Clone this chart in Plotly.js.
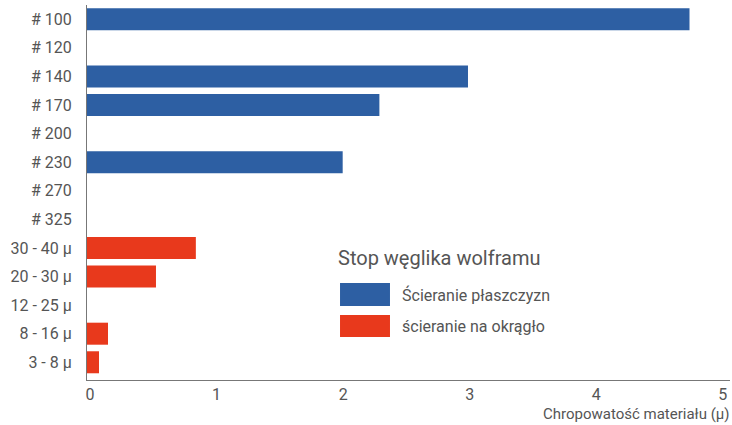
<!DOCTYPE html>
<html>
<head>
<meta charset="utf-8">
<script src="https://cdn.plot.ly/plotly-3.0.1.min.js"></script>
<style>html,body{margin:0;padding:0;background:#fff;}#chart{width:732px;height:425px;}</style>
</head>
<body>
<div id="chart"></div>
<script>
const categories = ["# 100", "# 120", "# 140", "# 170", "# 200", "# 230", "# 270", "# 325", "30 - 40 μ", "20 - 30 μ", "12 - 25 μ", "8 - 16 μ", "3 - 8 μ"];
const flatValues = [4.76, null, 3.01, 2.31, null, 2.02, null, null, null, null, null, null, null];
const roundValues = [null, null, null, null, null, null, null, null, 0.86, 0.545, null, 0.166, 0.095];
const seriesNames = ["Ścieranie płaszczyzn", "ścieranie na okrągło"];
const seriesColors = ["#2D5FA3", "#E8391C"];
const legendTitle = "Stop węglika wolframu";
const xTitle = "Chropowatość materiału (μ)";
const xTicks = [0, 1, 2, 3, 4, 5];

const FONT = "Roboto, sans-serif";
const traces = [flatValues, roundValues].map((vals, i) => ({
  type: "bar", orientation: "h", y: categories, x: vals, name: seriesNames[i],
  marker: {color: seriesColors[i]}, width: 0.77, showlegend: false, hoverinfo: "x+y"
}));

const layout = {
  width: 732, height: 425,
  margin: {l: 87, r: 2, t: 5, b: 45},
  paper_bgcolor: "#fff", plot_bgcolor: "#fff",
  barmode: "overlay",
  font: {family: FONT, color: "#555", size: 16},
  xaxis: {range: [0, 5.08], tickvals: xTicks, showgrid: false, zeroline: false,
          showline: true, linecolor: "#777", linewidth: 1, ticks: "", ticklabelshift: 3,
          tickfont: {family: FONT, size: 16, color: "#555"}, fixedrange: true},
  yaxis: {type: "category", categoryorder: "array", categoryarray: categories,
          range: [12.62, -0.5], showgrid: false, zeroline: false, showline: true,
          linecolor: "#777", linewidth: 1, ticks: "outside", ticklen: 11, tickcolor: "rgba(0,0,0,0)",
          tickfont: {family: FONT, size: 16, color: "#555"}, fixedrange: true},
  shapes: [
    {type: "rect", xref: "paper", yref: "paper", x0: 0.3935, x1: 0.4712, y0: 0.1973, y1: 0.2587, fillcolor: seriesColors[0], line: {width: 0}},
    {type: "rect", xref: "paper", yref: "paper", x0: 0.3935, x1: 0.4712, y0: 0.1147, y1: 0.1733, fillcolor: seriesColors[1], line: {width: 0}}
  ],
  annotations: [
    {xref: "paper", yref: "paper", x: 0.387, y: 0.325, xanchor: "left", yanchor: "middle", text: legendTitle, showarrow: false, font: {family: FONT, size: 20, color: "#555"}},
    {xref: "paper", yref: "paper", x: 0.4868, y: 0.2267, xanchor: "left", yanchor: "middle", text: seriesNames[0], showarrow: false, font: {family: FONT, size: 16, color: "#555"}},
    {xref: "paper", yref: "paper", x: 0.4868, y: 0.144, xanchor: "left", yanchor: "middle", text: seriesNames[1], showarrow: false, font: {family: FONT, size: 16, color: "#555"}},
    {xref: "paper", yref: "paper", x: 1.003, y: -0.09, xanchor: "right", yanchor: "middle", text: xTitle, showarrow: false, font: {family: FONT, size: 15, color: "#555"}}
  ]
};
Plotly.newPlot("chart", traces, layout, {displayModeBar: false, staticPlot: true});
</script>
</body>
</html>
